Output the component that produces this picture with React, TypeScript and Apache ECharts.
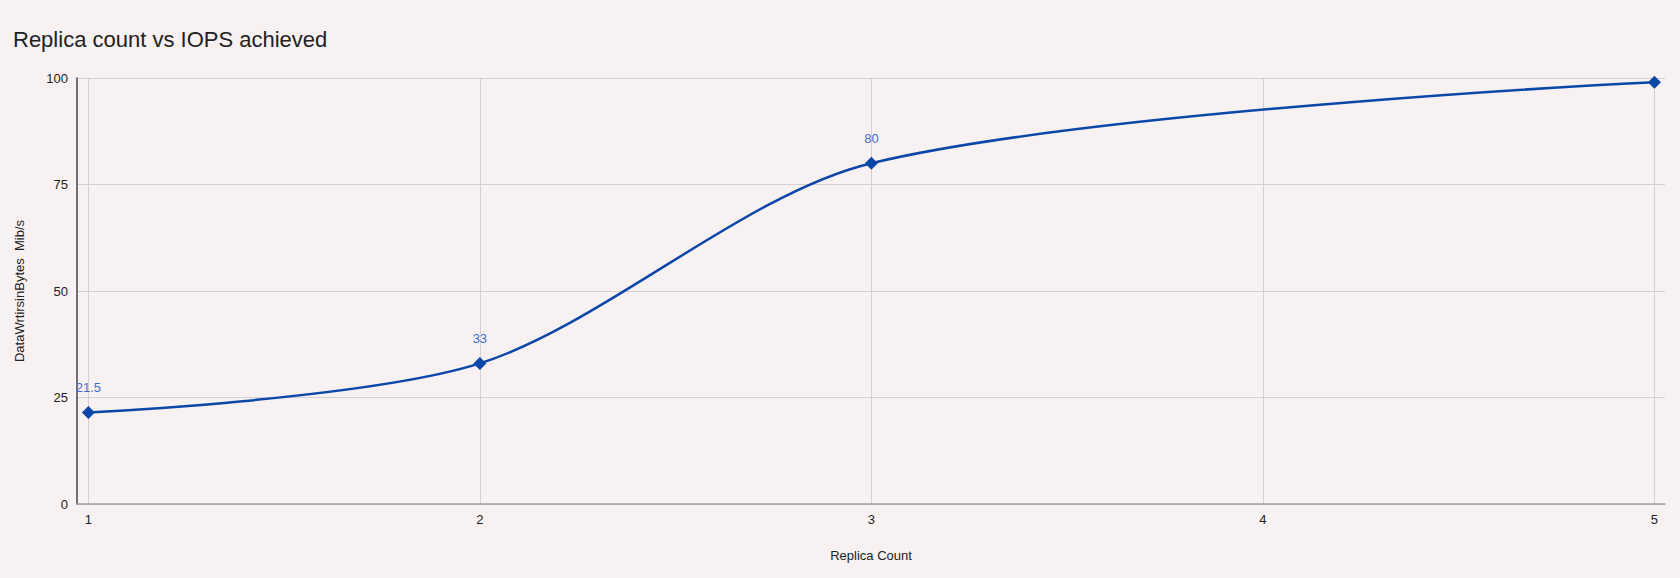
import { useEffect, useRef } from "react";
import * as echarts from "echarts";

// 副本数 vs 写入吞吐
const replicaCounts = [1, 2, 3, 5];
const throughput = [21.5, 33, 80, 99];
const labelShown = [true, true, true, false];
const xTickValues = [1, 2, 3, 4, 5];

const LINE_COLOR = "#0b47a8";
const LABEL_COLOR = "#3d6fce";
const FONT = "Arial, 'Liberation Sans', sans-serif";

function App() {
  const containerRef = useRef<HTMLDivElement>(null);

  useEffect(() => {
    if (!containerRef.current) return;
    const chart = echarts.init(containerRef.current, undefined, { renderer: "svg" });

    const data = replicaCounts.map((x, i) => ({
      value: [x, throughput[i]],
      label: { show: labelShown[i] },
    }));

    chart.setOption({
      animation: false,
      backgroundColor: "#f8f1f2",
      textStyle: { fontFamily: FONT },
      title: {
        text: "Replica count vs IOPS achieved",
        left: 8,
        top: 23,
        textStyle: { fontSize: 22, fontWeight: "normal", color: "#222", fontFamily: FONT },
      },
      grid: { left: 77, right: 15, top: 78, bottom: 74, containLabel: false },
      xAxis: {
        type: "value",
        min: 0.971,
        max: 5.027,
        name: "Replica Count",
        nameLocation: "middle",
        nameGap: 45,
        nameTextStyle: { fontSize: 13, color: "#222" },
        axisLine: { show: true, onZero: false, lineStyle: { color: "#9e9e9e", width: 1.5 } },
        axisTick: { show: false, customValues: xTickValues },
        axisLabel: { customValues: xTickValues, fontSize: 13, color: "#222", margin: 9 },
        splitLine: { show: true, lineStyle: { color: "#d2d0d0", width: 1 } },
      },
      yAxis: {
        type: "value",
        min: 0,
        max: 100,
        interval: 25,
        name: "DataWrtirsinBytes  Mib/s",
        nameLocation: "middle",
        nameGap: 51,
        nameTextStyle: { fontSize: 13, color: "#222" },
        axisLine: { show: true, lineStyle: { color: "#444", width: 1.5 } },
        axisTick: { show: false },
        axisLabel: { fontSize: 13, color: "#222", margin: 9 },
        splitLine: { show: true, lineStyle: { color: "#d2d0d0", width: 1 } },
      },
      series: [
        {
          type: "line",
          data,
          smooth: 0.3,
          symbol: "diamond",
          symbolSize: 13,
          lineStyle: { color: LINE_COLOR, width: 2.5 },
          itemStyle: { color: LINE_COLOR },
          label: {
            show: true,
            position: "top",
            distance: 12,
            fontSize: 13,
            color: LABEL_COLOR,
          },
        },
      ],
    });

    return () => {
      chart.dispose();
    };
  }, []);

  return (
    <div
      ref={containerRef}
      style={{ position: "fixed", left: 0, top: 0, width: 1680, height: 578 }}
    ></div>
  );
}

export default App;
